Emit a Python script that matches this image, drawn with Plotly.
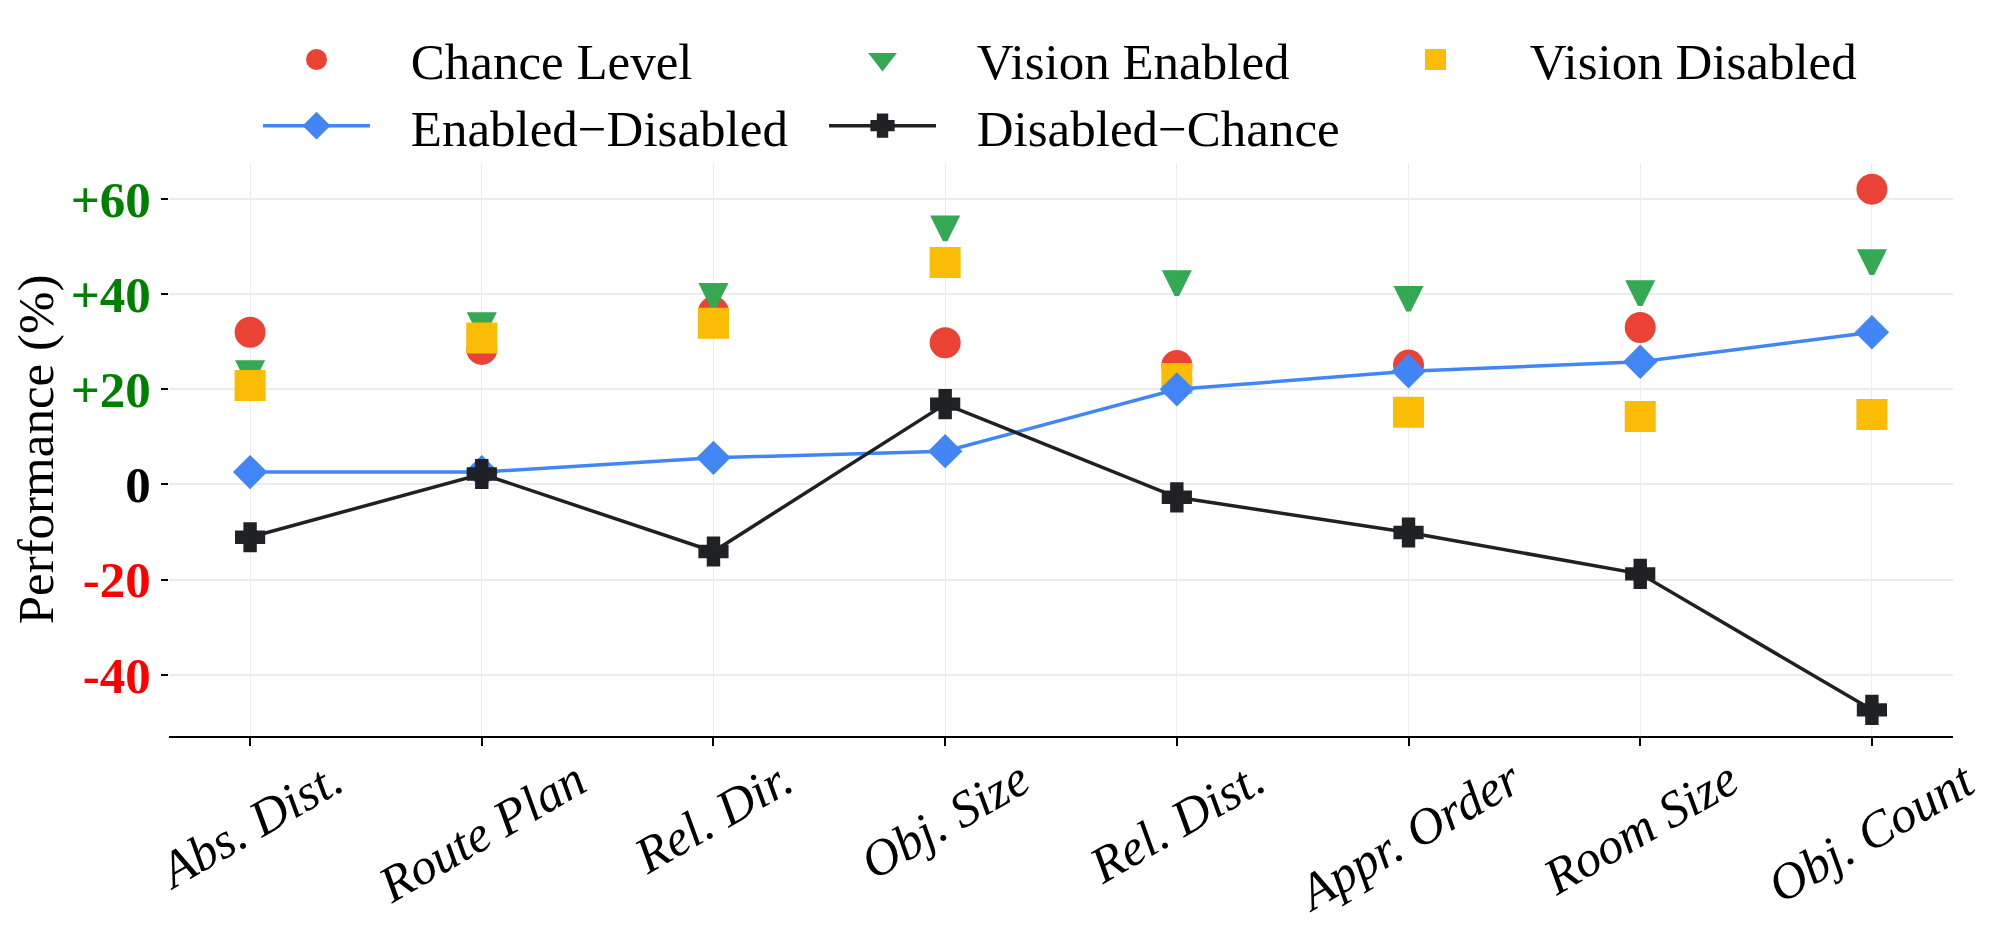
import plotly.graph_objects as go

# data
categories = ["Abs. Dist.", "Route Plan", "Rel. Dir.", "Obj. Size",
              "Rel. Dist.", "Appr. Order", "Room Size", "Obj. Count"]
chance_level = [32.0, 28.4, 36.3, 29.8, 25.0, 25.1, 33.0, 62.1]
vision_enabled = [23.3, 33.4, 39.5, 53.7, 42.2, 38.9, 40.1, 46.6]
vision_disabled = [20.8, 30.8, 33.9, 46.7, 22.3, 15.2, 14.3, 14.7]
enabled_minus_disabled = [2.6, 2.6, 5.6, 7.0, 20.0, 23.8, 25.8, 32.0]
disabled_minus_chance = [-11.1, 2.2, -14.1, 16.9, -2.7, -10.1, -18.8, -47.4]

y_tick_vals = [-40, -20, 0, 20, 40, 60]
y_tick_text = ["-40", "-20", "0", "+20", "+40", "+60"]

RED = "#EA4335"
GREEN = "#34A853"
YELLOW = "#FBBC05"
BLUE = "#4285F4"
DARK = "#202124"
SERIF = "Liberation Serif"
FS = 51
PAD = "\u00a0\u00a0\u2009"


def tick_label(v, t):
    if v > 0:
        return "<span style='color:#008000'>" + t + "</span>"
    if v < 0:
        return "<span style='color:#FF0000'>" + t + "</span>"
    return t


fig = go.Figure()

fig.add_trace(go.Scatter(
    x=categories, y=chance_level, mode="markers", name=PAD + "Chance Level",
    marker=dict(symbol="circle", size=26, color=RED, line=dict(width=5, color=RED)),
    legend="legend", legendwidth=444
))
# centred down-pointing triangles (legend entry added separately below)
fig.add_trace(go.Scatter(
    x=categories, y=vision_enabled, mode="markers", name=PAD + "Vision Enabled",
    marker=dict(symbol="arrow-down", size=22, standoff=11, color=GREEN, line=dict(width=5, color=GREEN)),
    showlegend=False
))
fig.add_trace(go.Scatter(
    x=[None], y=[None], mode="markers", name=PAD + "Vision Enabled",
    marker=dict(symbol="triangle-down", size=16, color=GREEN, line=dict(width=5, color=GREEN)),
    legend="legend", legendwidth=431, hoverinfo="skip"
))
fig.add_trace(go.Scatter(
    x=categories, y=vision_disabled, mode="markers", name=PAD + "Vision Disabled",
    marker=dict(symbol="square", size=26, color=YELLOW, line=dict(width=5, color=YELLOW)),
    legend="legend", legendwidth=400
))
fig.add_trace(go.Scatter(
    x=categories, y=enabled_minus_disabled, mode="lines+markers", name=PAD + "Enabled\u2212Disabled",
    line=dict(color=BLUE, width=3.5),
    marker=dict(symbol="diamond", size=21, color=BLUE, line=dict(width=5, color=BLUE)),
    legend="legend2", legendwidth=444
))
fig.add_trace(go.Scatter(
    x=categories, y=disabled_minus_chance, mode="lines+markers", name=PAD + "Disabled\u2212Chance",
    line=dict(color=DARK, width=3.5),
    marker=dict(symbol="cross", size=21, color=DARK, line=dict(width=5, color=DARK)),
    legend="legend2", legendwidth=431
))

# rotated category labels, centred under each tick
for c in categories:
    fig.add_annotation(
        x=c, xref="x", y=-0.02, yref="paper", text=c, showarrow=False,
        textangle=-30, xanchor="center", yanchor="top",
        font=dict(family=SERIF, size=FS, style="italic", color="black")
    )

legend_common = dict(
    orientation="h", xanchor="left", yanchor="middle", itemwidth=107,
    font=dict(family=SERIF, size=FS, color="black"),
    bgcolor="rgba(0,0,0,0)", borderwidth=0
)

# page body keeps an 8px margin, so the figure is 16px smaller than the window
fig.update_layout(
    width=1984, height=920,
    margin=dict(l=161, r=39, t=155, b=192, autoexpand=False),
    template="plotly_white",
    plot_bgcolor="white", paper_bgcolor="white",
    showlegend=True,
    legend=dict(x=0.0499, y=1.1800, **legend_common),
    legend2=dict(x=0.0499, y=1.0646, **legend_common),
    xaxis=dict(
        type="category", range=[-0.35, 7.35],
        showline=True, linecolor="black", linewidth=2,
        ticks="outside", ticklen=8, tickwidth=1.5, tickcolor="black",
        showticklabels=False,
        showgrid=True, gridcolor="#ececec", gridwidth=1.2, zeroline=False
    ),
    yaxis=dict(
        range=[-52.9, 67.6],
        tickvals=y_tick_vals,
        ticktext=[tick_label(v, t) for v, t in zip(y_tick_vals, y_tick_text)],
        tickfont=dict(family=SERIF, size=FS, color="black", weight="bold"),
        ticks="outside", ticklen=7, tickwidth=1.5, tickcolor="black",
        showline=False, zeroline=False,
        showgrid=True, gridcolor="#ececec", gridwidth=1.5,
        title=dict(text="Performance (%)", font=dict(family=SERIF, size=FS, color="black"), standoff=0)
    ),
)

fig.write_html("out.html")
